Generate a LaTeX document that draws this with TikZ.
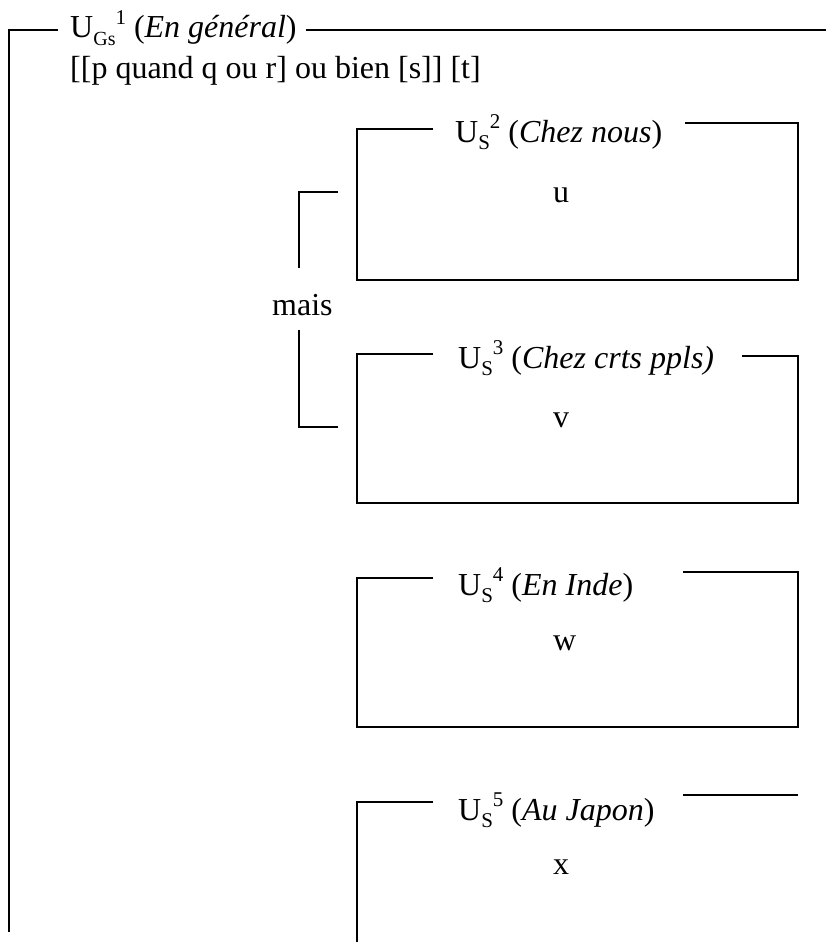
\documentclass[tikz,border=0pt]{standalone}
\usepackage{fontspec}
\setmainfont{Liberation Serif}
\newcommand\lsub[2][21]{\raisebox{-0.22em}{\fontsize{#1}{#1}\selectfont #2}}
\newcommand\lsup[1]{\raisebox{0.42em}{\fontsize{21}{21}\selectfont #1}}
\begin{document}
\begin{tikzpicture}[x=1pt,y=-1pt,
  frame/.style={line width=2.6pt},
  lab/.style={anchor=base west, inner sep=0pt, font=\fontsize{32}{38}\selectfont}]
\useasboundingbox (0,0) rectangle (826,942);
% outer unit
\node[lab] (t1) at (70,38) {U\lsub[20]{Gs}\lsup{1} (\textit{En général})};
\node[lab] (l1) at (70,78) {[[p quand q ou r] ou bien [s]] [t]};
\coordinate (tr) at (826,30);
\draw[frame] (58,30) -- (9,30) -- (9,932);
\draw[frame] (t1.east |- tr) ++(9,0) -- (tr);
% box 2
\node[lab] (t2) at (455,142) {U\lsub{S}\lsup{2} (\textit{Chez nous})};
\node[lab] (u) at (553,202) {u};
\draw[frame] (433,129) -- (357,129) -- (357,280) -- (798,280) -- (798,123) -- (685,123);
% bracket
\node[lab] (mais) at (272,315) {mais};
\draw[frame] (338,192) -- (299,192) -- (299,268);
\draw[frame] (299,330) -- (299,427) -- (338,427);
% box 3
\node[lab] (t3) at (458,368) {U\lsub{S}\lsup{3} (\textit{Chez crts ppls)}};
\node[lab] (v) at (553,427) {v};
\draw[frame] (433,354) -- (357,354) -- (357,503) -- (798,503) -- (798,356) -- (742,356);
% box 4
\node[lab] (t4) at (458,595) {U\lsub{S}\lsup{4} (\textit{En Inde})};
\node[lab] (w) at (553,650) {w};
\draw[frame] (433,578) -- (357,578) -- (357,727) -- (798,727) -- (798,572) -- (683,572);
% box 5
\node[lab] (t5) at (458,820) {U\lsub{S}\lsup{5} (\textit{Au Japon})};
\node[lab] (x) at (553,874) {x};
\draw[frame] (433,802) -- (357,802) -- (357,942);
\draw[frame] (683,795) -- (798,795);
\end{tikzpicture}
\end{document}
